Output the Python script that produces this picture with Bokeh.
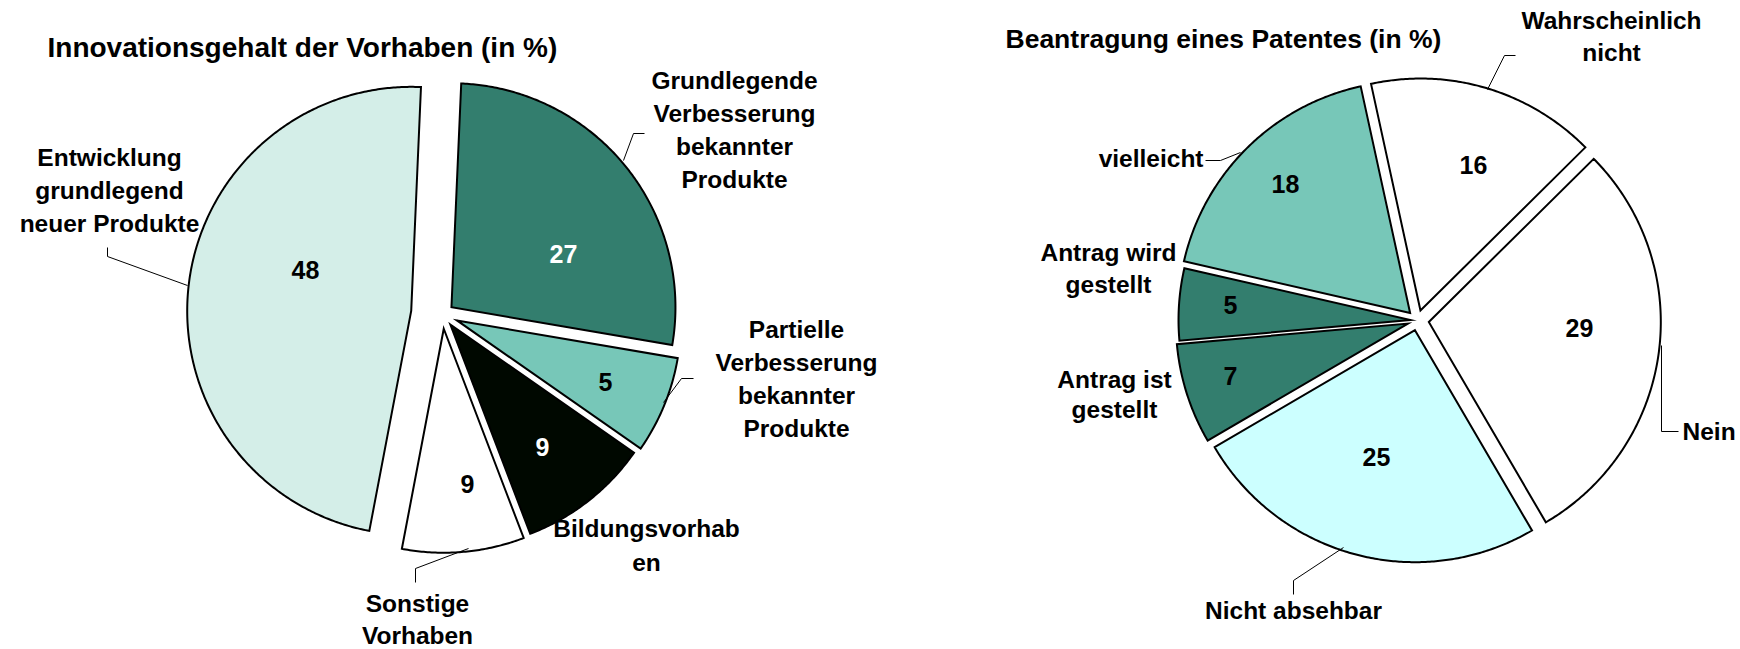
import numpy as np
from bokeh.plotting import figure
from bokeh.models import Range1d, ColumnDataSource
from bokeh.core.properties import value
from bokeh.embed import file_html
from bokeh.resources import INLINE

# ---------------- data ----------------
innov_title = "Innovationsgehalt der Vorhaben (in %)"
innov_categories = [
    "Grundlegende\nVerbesserung\nbekannter\nProdukte",
    "Partielle\nVerbesserung\nbekannter\nProdukte",
    "Bildungsvorhab\nen",
    "Sonstige\nVorhaben",
    "Entwicklung\ngrundlegend\nneuer Produkte",
]
innov_labels = [27, 5, 9, 9, 48]            # printed data labels
innov_shares = [27, 7, 9.5, 8.8, 47.7]      # slice sizes as drawn in the picture
innov_colors = ["#337E6E", "#77C7B8", "#000800", "#FFFFFF", "#D4EEE8"]
innov_label_colors = ["white", "black", "white", "black", "black"]

patent_title = "Beantragung eines Patentes (in %)"
patent_categories = [
    "Wahrscheinlich\nnicht",
    "Nein",
    "Nicht absehbar",
    "Antrag ist\ngestellt",
    "Antrag wird\ngestellt",
    "vielleicht",
]
patent_values = [16, 29, 25, 7, 5, 18]
patent_colors = ["#FFFFFF", "#FFFFFF", "#CCFFFF", "#337E6E", "#337E6E", "#77C7B8"]
patent_label_colors = ["black"] * 6

# ---------------- layout (page pixels) ----------------
W, H = 1740, 649
FONT = value("Liberation Sans")
CAT_SIZE = "24.5px"

left_pie = dict(cx=442, cy=314, r=224, start=2.5, explode=[11.5, 15.6, 12.7, 14.3, 31.5])
right_pie = dict(cx=1417, cy=320, r=232, start=-12.3, explode=[10.4, 11.4, 10, 10, 7, 10.5])

left_num_pos = [(563, 253), (605, 381), (542, 446), (467, 483), (305, 269)]
right_num_pos = [(1473, 164), (1579, 327), (1376, 456), (1230, 375), (1230, 304), (1285, 183)]

# (x, centre of first line, line spacing, align)
left_cat_pos = [(734, 80, 33, "center"), (796, 329, 33, "center"), (646, 528, 34, "center"),
                (417, 603, 32, "center"), (109, 157, 33, "center")]
right_cat_pos = [(1611, 20, 32, "center"), (1682, 431, 32, "left"), (1293, 610, 32, "center"),
                 (1114, 379, 30, "center"), (1108, 252, 32, "center"), (1203, 158, 32, "right")]

left_leaders = [
    ([644, 633, 623], [133, 133, 160]),
    ([693, 681, 663], [378, 378, 402]),
    ([415, 415, 468], [582, 568, 548]),
    ([107, 107, 187], [247, 256, 285]),
]
right_leaders = [
    ([1515, 1504, 1487], [55, 55, 89]),
    ([1678, 1661, 1661], [431, 431, 345]),
    ([1293, 1293, 1343], [594, 580, 547]),
    ([1205, 1220, 1240], [160, 160, 152]),
]


def pie_patches(shares, pie):
    total = float(sum(shares))
    xs, ys = [], []
    a0 = pie["start"]
    for s, d in zip(shares, pie["explode"]):
        span = 360.0 * s / total
        a1 = a0 + span
        mid = np.radians((a0 + a1) / 2)
        ox = pie["cx"] + d * np.sin(mid)
        oy = pie["cy"] - d * np.cos(mid)
        n = max(int(span * 2), 3)
        th = np.radians(np.linspace(a0, a1, n))
        px = np.concatenate([[ox], ox + pie["r"] * np.sin(th)])
        py = np.concatenate([[oy], oy - pie["r"] * np.cos(th)])
        xs.append(px.tolist())
        ys.append(py.tolist())
        a0 = a1
    return xs, ys


p = figure(width=W, height=H, x_range=Range1d(0, W), y_range=Range1d(H, 0),
           output_backend="svg", toolbar_location=None, min_border=0,
           x_axis_type=None, y_axis_type=None)
p.grid.visible = False
p.outline_line_color = None
p.background_fill_color = "white"
p.border_fill_color = "white"

for shares, pie, colors in [(innov_shares, left_pie, innov_colors),
                            (patent_values, right_pie, patent_colors)]:
    xs, ys = pie_patches(shares, pie)
    p.patches(xs=xs, ys=ys, fill_color=colors, line_color="black", line_width=2,
              line_join="miter")

# leader lines
lxs = [l[0] for l in left_leaders + right_leaders]
lys = [l[1] for l in left_leaders + right_leaders]
p.multi_line(xs=lxs, ys=lys, line_color="black", line_width=1)

# numbers
nums = dict(x=[], y=[], t=[], c=[])
for labels, pos, cols in [(innov_labels, left_num_pos, innov_label_colors),
                          (patent_values, right_num_pos, patent_label_colors)]:
    for v, (x, y), c in zip(labels, pos, cols):
        nums["x"].append(x); nums["y"].append(y); nums["t"].append(str(v)); nums["c"].append(c)
p.text(x="x", y="y", text="t", text_color="c", source=ColumnDataSource(nums),
       text_font=FONT, text_font_style="bold", text_font_size="25px",
       text_align="center", text_baseline="middle")

# category labels
for cats, pos in [(innov_categories, left_cat_pos), (patent_categories, right_cat_pos)]:
    for cat, (x, y0, sp, al) in zip(cats, pos):
        lines = cat.split("\n")
        src = ColumnDataSource(dict(x=[x] * len(lines), y=[y0 + i * sp for i in range(len(lines))], t=lines))
        p.text(x="x", y="y", text="t", source=src, text_font=FONT, text_font_style="bold",
               text_font_size=CAT_SIZE, text_align=al, text_baseline="middle", text_color="black")

# titles
p.text(x=[47], y=[47], text=[innov_title], text_font=FONT, text_font_style="bold",
       text_font_size="28px", text_align="left", text_baseline="middle", text_color="black")
p.text(x=[1005], y=[38], text=[patent_title], text_font=FONT, text_font_style="bold",
       text_font_size="26.5px", text_align="left", text_baseline="middle", text_color="black")

open("out.html", "w").write(file_html(p, INLINE))
